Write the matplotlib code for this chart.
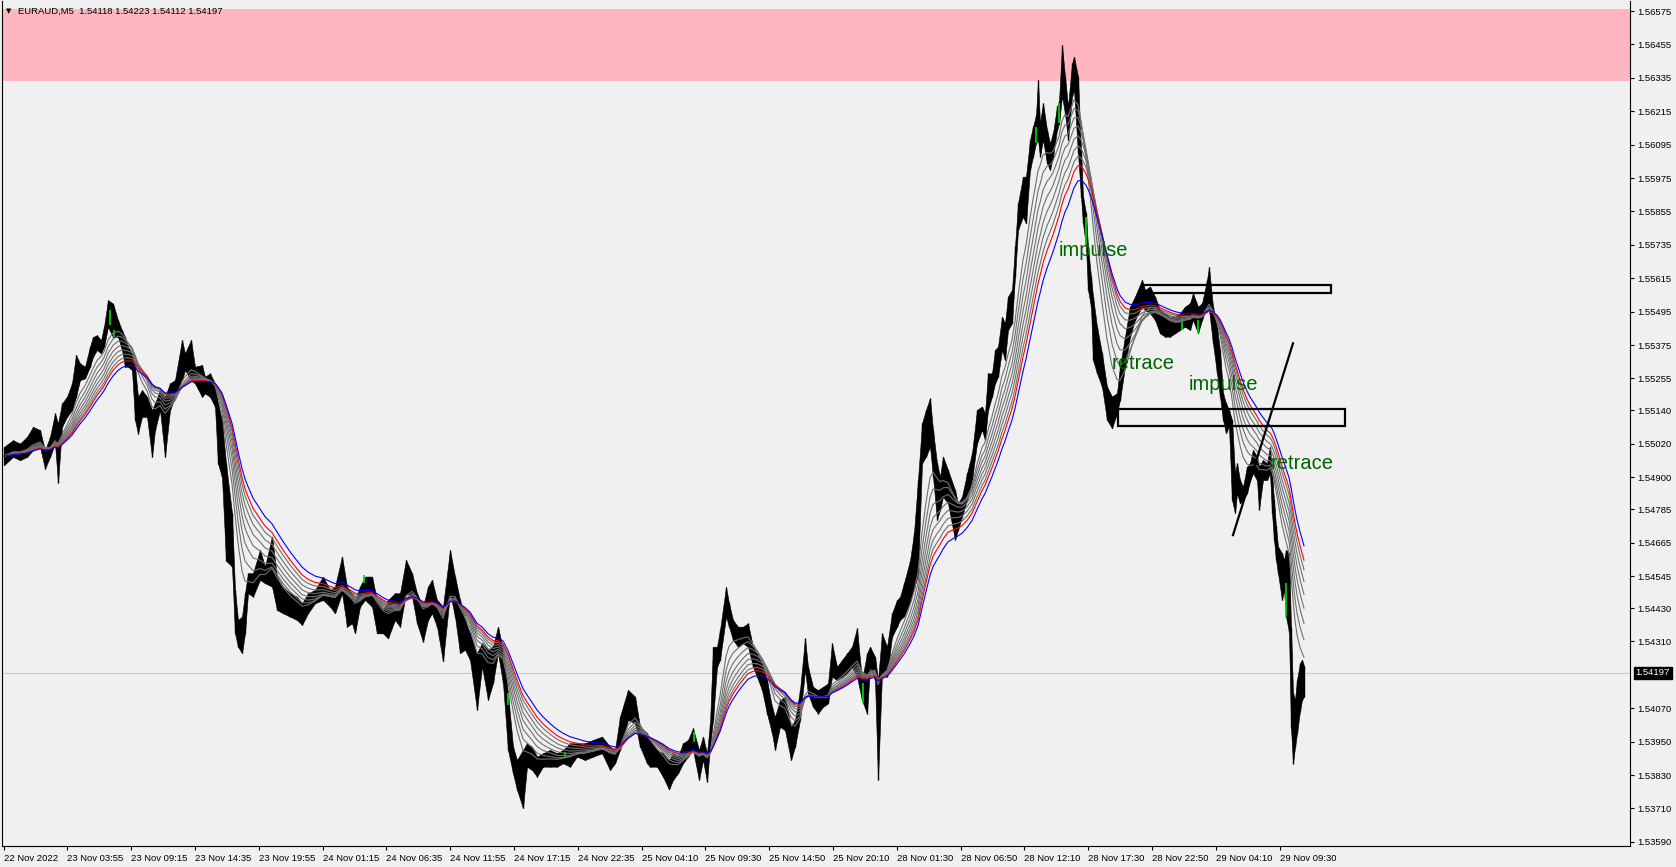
import numpy as np
import matplotlib
matplotlib.use('Agg')
import matplotlib.pyplot as plt
import matplotlib.transforms as mtransforms
from matplotlib.patches import Rectangle

plt.rcParams['font.family'] = ['Liberation Sans', 'DejaVu Sans']

# header and last quote
symbol_title = 'EURAUD,M5  1.54118 1.54223 1.54112 1.54197'
last_price = 1.54197

# price bars: bar index, high, low
bar_x = [0, 9, 16, 23, 29, 36, 41, 46, 51, 54, 58, 63, 68, 72, 76, 81, 86, 89, 93, 97,
         100, 104, 109, 114, 118, 121, 124, 128, 131, 134, 138, 143, 148, 151, 156, 161, 166, 171, 178, 181,
         187, 191, 198, 201, 206, 211, 214, 218, 222, 228, 231, 234, 238, 241, 244, 249, 256, 261, 268, 273,
         279, 286, 293, 298, 304, 311, 319, 326, 331, 338, 343, 348, 351, 356, 361, 368, 373, 379, 384, 391,
         396, 402, 408, 413, 419, 424, 428, 433, 439, 446, 451, 456, 461, 466, 473, 478, 484, 489, 494, 499,
         504, 509, 513, 519, 523, 528, 533, 539, 546, 553, 559, 566, 573, 581, 589, 598, 606, 611, 616, 624,
         631, 636, 643, 646, 653, 659, 665, 669, 674, 679, 684, 689, 695, 699, 703, 706, 709, 713, 716, 722,
         725, 729, 734, 739, 744, 749, 753, 758, 763, 768, 771, 776, 781, 787, 791, 796, 801, 804, 809, 814,
         819, 824, 828, 833, 838, 843, 848, 853, 858, 863, 866, 871, 874, 878, 883, 888, 893, 896, 900, 906,
         910, 914, 918, 922, 926, 929, 933, 936, 939, 944, 951, 954, 958, 963, 968, 973, 978, 981, 984, 988,
         991, 994, 998, 1001, 1004, 1008, 1011, 1014, 1019, 1022, 1026, 1029, 1032, 1034, 1036, 1039, 1043, 1046, 1049, 1053,
         1055, 1058, 1061, 1064, 1068, 1070, 1074, 1077, 1079, 1082, 1084, 1087, 1089, 1093, 1098, 1103, 1108, 1113, 1116, 1121,
         1126, 1131, 1138, 1141, 1146, 1151, 1156, 1161, 1166, 1171, 1176, 1181, 1186, 1189, 1194, 1198, 1203, 1205, 1209, 1213,
         1216, 1219, 1222, 1225, 1228, 1231, 1233, 1236, 1239, 1243, 1246, 1249, 1253, 1255, 1259, 1263, 1266, 1268, 1270, 1272,
         1274, 1278, 1280, 1282, 1285, 1287, 1289, 1291, 1293, 1296, 1298, 1300]
bar_hi = [1.55009, 1.55033, 1.55021, 1.55045, 1.55081, 1.55069, 1.54997, 1.55045, 1.55129, 1.55093, 1.55165, 1.55189, 1.55237, 1.55339, 1.55309, 1.55297, 1.55369, 1.55404, 1.55410, 1.55392,
          1.55440, 1.55536, 1.55524, 1.55464, 1.55428, 1.55404, 1.55369, 1.55345, 1.55297, 1.55189, 1.55213, 1.55189, 1.55141, 1.55165, 1.55213, 1.55189, 1.55237, 1.55249, 1.55393, 1.55345,
          1.55393, 1.55297, 1.55303, 1.55261, 1.55273, 1.55237, 1.55165, 1.55105, 1.54950, 1.54771, 1.54495, 1.54387, 1.54399, 1.54483, 1.54555, 1.54555, 1.54639, 1.54579, 1.54687, 1.54543,
          1.54507, 1.54483, 1.54471, 1.54447, 1.54483, 1.54495, 1.54543, 1.54495, 1.54507, 1.54615, 1.54507, 1.54483, 1.54459, 1.54507, 1.54543, 1.54543, 1.54459, 1.54423, 1.54459, 1.54483,
          1.54483, 1.54603, 1.54555, 1.54483, 1.54435, 1.54507, 1.54531, 1.54459, 1.54435, 1.54639, 1.54543, 1.54459, 1.54387, 1.54339, 1.54268, 1.54304, 1.54280, 1.54292, 1.54363, 1.54280,
          1.54124, 1.53932, 1.53884, 1.53920, 1.53944, 1.53932, 1.53896, 1.53908, 1.53920, 1.53908, 1.53920, 1.53944, 1.53944, 1.53944, 1.53956, 1.53968, 1.53932, 1.53920, 1.54040, 1.54136,
          1.54112, 1.54004, 1.53980, 1.53956, 1.53920, 1.53908, 1.53884, 1.53908, 1.53896, 1.53944, 1.53956, 1.53998, 1.53920, 1.53968, 1.53908, 1.54015, 1.54291, 1.54291, 1.54351, 1.54506,
          1.54447, 1.54387, 1.54363, 1.54363, 1.54375, 1.54291, 1.54267, 1.54231, 1.54171, 1.54075, 1.54039, 1.54099, 1.54111, 1.54003, 1.54027, 1.54135, 1.54321, 1.54219, 1.54147, 1.54135,
          1.54147, 1.54159, 1.54303, 1.54219, 1.54243, 1.54267, 1.54291, 1.54357, 1.54171, 1.54267, 1.54291, 1.54255, 1.54171, 1.54339, 1.54291, 1.54411, 1.54459, 1.54470, 1.54520, 1.54600,
          1.54700, 1.54890, 1.55094, 1.55142, 1.55184, 1.55070, 1.54950, 1.54902, 1.54974, 1.54926, 1.54854, 1.54806, 1.54830, 1.54914, 1.54986, 1.55142, 1.55154, 1.55130, 1.55273, 1.55273,
          1.55357, 1.55369, 1.55477, 1.55453, 1.55549, 1.55573, 1.55729, 1.55884, 1.55980, 1.55980, 1.56112, 1.56160, 1.56200, 1.56327, 1.56172, 1.56244, 1.56148, 1.56100, 1.56136, 1.56232,
          1.56250, 1.56453, 1.56339, 1.56232, 1.56387, 1.56411, 1.56339, 1.56076, 1.55908, 1.55848, 1.55728, 1.55621, 1.55549, 1.55441, 1.55345, 1.55225, 1.55190, 1.55202, 1.55297, 1.55405,
          1.55513, 1.55549, 1.55609, 1.55573, 1.55585, 1.55549, 1.55501, 1.55489, 1.55477, 1.55477, 1.55489, 1.55513, 1.55525, 1.55561, 1.55513, 1.55525, 1.55609, 1.55654, 1.55513, 1.55441,
          1.55357, 1.55202, 1.55166, 1.55142, 1.55106, 1.54914, 1.54950, 1.54890, 1.54866, 1.54938, 1.54950, 1.54998, 1.54974, 1.54938, 1.54962, 1.54950, 1.55010, 1.54914, 1.54818, 1.54723,
          1.54651, 1.54627, 1.54603, 1.54639, 1.54627, 1.54363, 1.54124, 1.54100, 1.54172, 1.54232, 1.54244, 1.54223]
bar_lo = [1.54943, 1.54973, 1.54961, 1.54973, 1.54997, 1.55009, 1.54930, 1.54973, 1.55021, 1.54880, 1.55081, 1.55117, 1.55141, 1.55189, 1.55249, 1.55255, 1.55297, 1.55333, 1.55357, 1.55345,
          1.55369, 1.55440, 1.55404, 1.55404, 1.55357, 1.55297, 1.55297, 1.55285, 1.55105, 1.55057, 1.55117, 1.55117, 1.54973, 1.55069, 1.55141, 1.54973, 1.55141, 1.55189, 1.55249, 1.55285,
          1.55249, 1.55237, 1.55189, 1.55201, 1.55189, 1.55153, 1.54949, 1.54900, 1.54600, 1.54579, 1.54339, 1.54291, 1.54268, 1.54339, 1.54483, 1.54471, 1.54531, 1.54519, 1.54507, 1.54423,
          1.54411, 1.54399, 1.54387, 1.54369, 1.54411, 1.54447, 1.54459, 1.54435, 1.54411, 1.54483, 1.54363, 1.54375, 1.54339, 1.54435, 1.54459, 1.54435, 1.54339, 1.54339, 1.54321, 1.54387,
          1.54363, 1.54483, 1.54471, 1.54375, 1.54309, 1.54387, 1.54411, 1.54363, 1.54238, 1.54483, 1.54399, 1.54268, 1.54280, 1.54244, 1.54064, 1.54220, 1.54100, 1.54160, 1.54268, 1.54160,
          1.53920, 1.53836, 1.53777, 1.53711, 1.53860, 1.53848, 1.53824, 1.53860, 1.53860, 1.53860, 1.53872, 1.53860, 1.53896, 1.53884, 1.53896, 1.53908, 1.53848, 1.53872, 1.53920, 1.54028,
          1.54016, 1.53932, 1.53872, 1.53860, 1.53860, 1.53824, 1.53778, 1.53812, 1.53836, 1.53872, 1.53896, 1.53920, 1.53812, 1.53884, 1.53806, 1.53932, 1.54027, 1.54219, 1.54243, 1.54399,
          1.54363, 1.54315, 1.54291, 1.54303, 1.54291, 1.54219, 1.54183, 1.54135, 1.54051, 1.53980, 1.53920, 1.54003, 1.53991, 1.53884, 1.53932, 1.54027, 1.54207, 1.54123, 1.54075, 1.54051,
          1.54075, 1.54087, 1.54183, 1.54171, 1.54183, 1.54195, 1.54219, 1.54183, 1.54099, 1.54051, 1.54219, 1.54171, 1.53812, 1.54195, 1.54183, 1.54327, 1.54363, 1.54387, 1.54400, 1.54450,
          1.54500, 1.54550, 1.54950, 1.54974, 1.55010, 1.54902, 1.54747, 1.54782, 1.54830, 1.54806, 1.54675, 1.54711, 1.54758, 1.54818, 1.54890, 1.55022, 1.55070, 1.55034, 1.55142, 1.55190,
          1.55237, 1.55261, 1.55357, 1.55321, 1.55429, 1.55453, 1.55621, 1.55788, 1.55836, 1.55812, 1.56004, 1.56052, 1.56100, 1.56112, 1.56052, 1.56112, 1.56028, 1.56004, 1.56052, 1.56148,
          1.56170, 1.56268, 1.56208, 1.56112, 1.56268, 1.56291, 1.56064, 1.55908, 1.55812, 1.55729, 1.55573, 1.55513, 1.55321, 1.55273, 1.55225, 1.55106, 1.55076, 1.55130, 1.55178, 1.55297,
          1.55405, 1.55465, 1.55513, 1.55501, 1.55489, 1.55465, 1.55417, 1.55405, 1.55405, 1.55417, 1.55429, 1.55441, 1.55429, 1.55465, 1.55417, 1.55465, 1.55513, 1.55501, 1.55381, 1.55273,
          1.55190, 1.55106, 1.55058, 1.55082, 1.54818, 1.54771, 1.54842, 1.54806, 1.54818, 1.54842, 1.54890, 1.54914, 1.54890, 1.54783, 1.54890, 1.54890, 1.54914, 1.54771, 1.54675, 1.54603,
          1.54555, 1.54459, 1.54495, 1.54399, 1.54345, 1.54000, 1.53871, 1.53930, 1.53980, 1.54060, 1.54100, 1.54112]

# bars painted green
green_x = [106, 110, 360, 504, 561, 690, 859, 1032, 1055, 1082, 1178, 1194, 1282]
green_hi = [1.55500, 1.55428, 1.54549, 1.54124, 1.53914, 1.53986, 1.54159, 1.56160, 1.56244, 1.55836, 1.55471, 1.55465, 1.54519]
green_lo = [1.55446, 1.55404, 1.54519, 1.54082, 1.53890, 1.53950, 1.54087, 1.56100, 1.56172, 1.55729, 1.55429, 1.55417, 1.54399]

# moving average ribbon periods
gray_periods = [22, 29, 36, 43, 50, 57, 64]
red_period = 70
blue_period = 80

# drawn objects
supply_lo, supply_hi = 1.56323, 1.56582
zone_x0 = [1138, 1114]
zone_x1 = [1327, 1341]
zone_lo = [1.55562, 1.55084]
zone_hi = [1.55591, 1.55145]
trend_x = [1229, 1289]
trend_p = [1.54692, 1.55381]
label_text = ['impulse', 'retrace', 'impulse', 'retrace']
label_x = [1055, 1108, 1185, 1267]
label_p = [1.55695, 1.55288, 1.55213, 1.54928]

# axis labels
price_ticks = [1.56575, 1.56455, 1.56335, 1.56215, 1.56095, 1.55975, 1.55855, 1.55735, 1.55615,
               1.55495, 1.55375, 1.55255, 1.55140, 1.55020, 1.54900, 1.54785, 1.54665, 1.54545,
               1.54430, 1.54310, 1.54070, 1.53950, 1.53830, 1.53710, 1.53590]
time_labels = ['22 Nov 2022', '23 Nov 03:55', '23 Nov 09:15', '23 Nov 14:35', '23 Nov 19:55',
               '24 Nov 01:15', '24 Nov 06:35', '24 Nov 11:55', '24 Nov 17:15', '24 Nov 22:35',
               '25 Nov 04:10', '25 Nov 09:30', '25 Nov 14:50', '25 Nov 20:10', '28 Nov 01:30',
               '28 Nov 06:50', '28 Nov 12:10', '28 Nov 17:30', '28 Nov 22:50', '29 Nov 04:10',
               '29 Nov 09:30']


def ema_irregular(x, v, n):
    a = 2.0 / (n + 1)
    out = np.empty(len(v))
    out[0] = v[0]
    for k in range(1, len(v)):
        w = 1 - (1 - a) ** (x[k] - x[k - 1])
        out[k] = out[k - 1] + w * (v[k] - out[k - 1])
    return out


bx = np.array(bar_x, dtype=float)
bh = np.array(bar_hi)
bl = np.array(bar_lo)
mid = (bh + bl) / 2

W, H = 1676, 867
fig = plt.figure(figsize=(W / 100, H / 100), dpi=100, facecolor='#f0f0f0')
ax = fig.add_axes([2 / W, 21 / H, 1628 / W, 845 / H])
ax.set_facecolor('#f0f0f0')
ax.set_xlim(-2, 1626)
ax.set_ylim(1.53575, 1.56611)

ax.axhspan(supply_lo, supply_hi, color='#ffb6c1', lw=0, zorder=0.5)
ax.axhline(last_price, color='#c8c8c8', lw=0.8, zorder=1)

# price
ax.fill_between(bx, bl, bh, color='black', lw=0.4, zorder=2)
ax.vlines(bx, bl, bh, color='black', lw=1.0, zorder=2)
ax.vlines(green_x, green_lo, green_hi, color='#00e000', lw=1.2, zorder=2.5)

# ribbon
for n in gray_periods:
    ax.plot(bx, ema_irregular(bx, mid, n), color='#707070', lw=0.8, zorder=3)
ax.plot(bx, ema_irregular(bx, mid, red_period), color='red', lw=0.8, zorder=3.1)
ax.plot(bx, ema_irregular(bx, mid, blue_period), color='blue', lw=0.8, zorder=3.2)

# zones, trend line, labels
for x0, x1, p0, p1 in zip(zone_x0, zone_x1, zone_lo, zone_hi):
    ax.add_patch(Rectangle((x0, p0), x1 - x0, p1 - p0, fill=False, ec='black', lw=1.6, zorder=4))
ax.plot(trend_x, trend_p, color='black', lw=1.6, zorder=4)
for t, x, p in zip(label_text, label_x, label_p):
    ax.text(x, p, t, color='#006400', fontsize=14.5, ha='left', va='baseline', zorder=5)

# axes styling
for s in ['left', 'right', 'bottom']:
    ax.spines[s].set_color('black')
    ax.spines[s].set_linewidth(0.8)
ax.spines['top'].set_visible(False)

ax.yaxis.tick_right()
ax.set_yticks(price_ticks)
ax.set_yticklabels([f'{t:.5f}' for t in price_ticks])
ax.tick_params(axis='y', direction='out', length=3, width=0.8, pad=2, labelsize=6.8, colors='black')

ax.set_xticks(np.arange(len(time_labels)) * 63.8 - 0.4)
ax.set_xticklabels(time_labels)
ax.tick_params(axis='x', direction='out', length=3, width=0.8, pad=2.5, labelsize=6.8, colors='black')
plt.setp(ax.get_xticklabels(), ha='left')

# last price marker on the scale
trans = mtransforms.blended_transform_factory(ax.transAxes, ax.transData)
ax.text(1.0035, last_price, f'{last_price:.5f}', transform=trans, color='white', fontsize=6.8,
        ha='left', va='center', bbox=dict(fc='black', ec='black', pad=1.2), zorder=6)

# header
fig.text(6 / W, 1 - 11 / H, '\u25bc', fontsize=5, ha='left', va='center', family=['DejaVu Sans'])
fig.text(18 / W, 1 - 11 / H, symbol_title, fontsize=6.8, ha='left', va='center')

fig.savefig('out.png', dpi=100, facecolor=fig.get_facecolor())
